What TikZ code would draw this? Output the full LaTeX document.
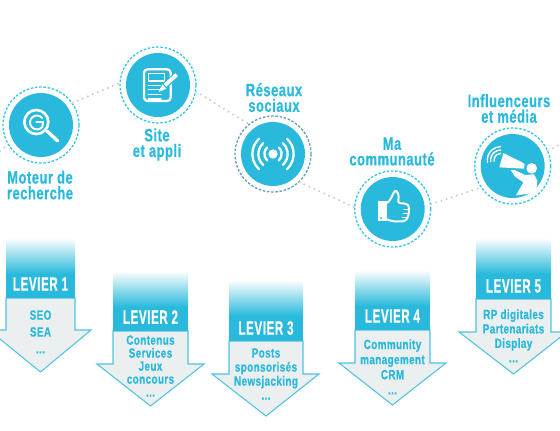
\documentclass[tikz,border=0pt]{standalone}
\usepackage{xcolor}
\usepackage{fontspec}
\usepackage{tikz}
\usetikzlibrary{calc}
\newfontfamily\labfont[FakeStretch=0.72,LetterSpace=3,FakeBold=0.5]{Liberation Sans}
\newfontfamily\capfont[FakeStretch=0.6,LetterSpace=3,FakeBold=0.5]{Liberation Sans}
\newfontfamily\txtfont[FakeStretch=0.74,LetterSpace=3,FakeBold=0.5]{Liberation Sans}
\definecolor{levblue}{HTML}{29B9DC}
\definecolor{levline}{HTML}{4FC3E2}
\definecolor{levgray}{HTML}{EBEFEF}
\definecolor{ringlight}{HTML}{30C6EC}
\definecolor{ringdark}{HTML}{5C9DC4}
\tikzset{
  disc/.style={circle, fill=levblue, minimum size=1.28cm, inner sep=0},
  ring/.style={circle, draw=ringlight, line width=0.75pt, dash pattern=on 1.4pt off 1pt, minimum size=1.52cm, inner sep=0},
  trail/.style={line width=1.3pt, gray!40, line cap=round, dash pattern=on 0pt off 3.1pt},
  label/.style={levblue, font=\labfont\bfseries\fontsize{10.2}{8.9}\selectfont, align=center},
  icon/.style={white, line width=1.2pt, line cap=round, line join=round}
}
\begin{document}
\begin{tikzpicture}[x=0.02cm, y=-0.02cm]
    \useasboundingbox (0,0) rectangle (560,430);
    \clip (0,0) rectangle (560,430);

    \foreach \n/\xc/\yc in {1/41/125, 2/158/85, 3/273/154, 4/392.7/209, 5/512.7/166}
        \node[disc] (disc\n) at (\xc,\yc) {};
    \node[ring] (ring1) at (disc1) {};
    \node[ring] (ring2) at (disc2) {};
    \node[ring, draw=ringdark] (ring3) at (disc3) {};
    \node[ring] (ring4) at (disc4) {};
    \node[ring] (ring5) at (disc5) {};
    \coordinate (inleft) at (0,151);
    \coordinate (outright) at (562,143);
    \draw[trail] (inleft) -- (ring1.210);
    \draw[trail] (ring1.35) -- (ring2.177);
    \draw[trail] (ring2.350) -- (ring3.129);
    \draw[trail] (ring3.313) -- (ring4.177);
    \draw[trail] (ring4.7) -- (ring5.214);
    \draw[trail] (ring5.23) -- (outright);

    \node[label] (lab1) at (40,185) {Moteur de\\recherche};
    \node[label] (lab2) at (157,144.5) {Site\\et appli};
    \node[label] (lab3) at (274,97.5) {Réseaux\\sociaux};
    \node[label] (lab4) at (392,151.5) {Ma\\communauté};
    \node[label] (lab5) at (509,108.5) {Influenceurs\\et média};

    % loupe
    \begin{scope}[shift={(8,92)}, scale=1/3, icon]
        \draw[line width=1.5pt] (85,90) circle (36);
        \draw[line width=1.9pt] (117,117) -- (149,147);
        \draw[line width=1.1pt] (103,78) arc (-40:-320:21) -- (105,90) -- (85,90);
    \end{scope}
    % page et crayon
    \begin{scope}[shift={(125,52)}, scale=1/3, icon]
        \draw[line width=1.3pt, rounded corners=2pt] (57,52) rectangle (137,147);
        \draw[line width=0.8pt] (70,65) rectangle (118,87);
        \foreach \y in {100,113,127,141} \draw[line width=0.8pt] (70,\y) -- (108,\y);
        \draw[levblue, line width=3.4pt, line cap=butt] (108,112) -- (155,68);
        \draw[line width=2.2pt, line cap=butt] (120,100) -- (155,68);
        \fill[white] (101,120) -- (112,97) -- (124,110) -- cycle;
    \end{scope}
    % ondes
    \begin{scope}[shift={(235,115)}, scale=1/3, icon]
        \fill[white] (114,117) circle (14);
        \foreach \r in {26,44,62}{
            \draw[line width=1.3pt] ($(114,117)+(132:\r)$) arc (132:228:\r);
            \draw[line width=1.3pt] ($(114,117)+(48:\r)$) arc (48:-48:\r);
        }
    \end{scope}
    % pouce
    \begin{scope}[shift={(360,177)}, scale=1/3, icon]
        \fill[white] (53,72) rectangle (80,133);
        \fill[levblue] (63,123) circle (3.5);
        \draw[line width=1.1pt, rounded corners=1.5pt] (82,78) -- (95,62) -- (102,42) -- (112,42) -- (117,60) -- (113,78) -- (140,80) -- (148,88) -- (145,120) -- (135,133) -- (95,133) -- (82,127);
        \draw[line width=0.8pt] (148,98) -- (132,98) (146,110) -- (130,110) (142,122) -- (128,122);
    \end{scope}
    % porte-voix
    \begin{scope}[shift={(480,134)}, scale=1/3, icon]
        \fill[white] (70,57) -- (128,86) -- (134,92) -- (132,104) -- (58,100) -- cycle;
        \fill[white] (155,103) circle (16);
        \fill[white] (92,108) -- (104,108) -- (135,123) -- (162,121) -- (172,140) -- (168,175) -- (140,180) -- (108,184) -- (130,145) -- (105,128) -- cycle;
        \foreach \r in {20,30,40} \draw[line width=0.8pt] ($(62,78)+(170:\r)$) arc (170:270:\r);
    \end{scope}

    \foreach \n/\xl/\xr/\yt/\yb/\ys/\hl/\hr/\yp/\yh/\yq/\sep/\lst in {
        1/6/75/238/298/330/-11/91/372/284/310/9.6/{SEO\\SEA\\...},
        2/113/188/271/331/364/97/204/406/317/335/7.4/{Contenus\\Services\\Jeux\\concours\\...},
        3/229/303/280/341/374/212/319/416/328/348/8/{Posts\\sponsorisés\\Newsjacking\\...},
        4/355/430/270/330/363/339/446/405/316/339/8.6/{Community\\management\\CRM\\...},
        5/476/551/238/299/332/459/567/374/286/309/8.2/{RP digitales\\Partenariats\\Display\\...}}{
        \pgfmathsetmacro{\xc}{(\xl+\xr)/2}
        \pgfmathsetmacro{\ym}{\yt+36}
        \draw[levline, fill=levgray, line width=0.6pt, line join=miter] (\xl,\yb) -- (\xl,\ys) -- (\hl,\ys) -- (\xc,\yp) -- (\hr,\ys) -- (\xr,\ys) -- (\xr,\yb) -- cycle;
        \shade[top color=white, bottom color=levblue] (\xl,\yt) rectangle (\xr,\ym);
        \fill[levblue] (\xl,\ym-0.3) rectangle (\xr,\yb);
        \node[white, font=\capfont\bfseries\fontsize{11}{12}\selectfont] (lev\n) at (\xc,\yh) {LEVIER \n};
        \node[levblue, anchor=north, align=center, inner sep=0, font=\txtfont\bfseries\fontsize{7.6}{\sep}\selectfont] (txt\n) at (\xc,\yq) {\lst};
    }
\end{tikzpicture}
\end{document}
